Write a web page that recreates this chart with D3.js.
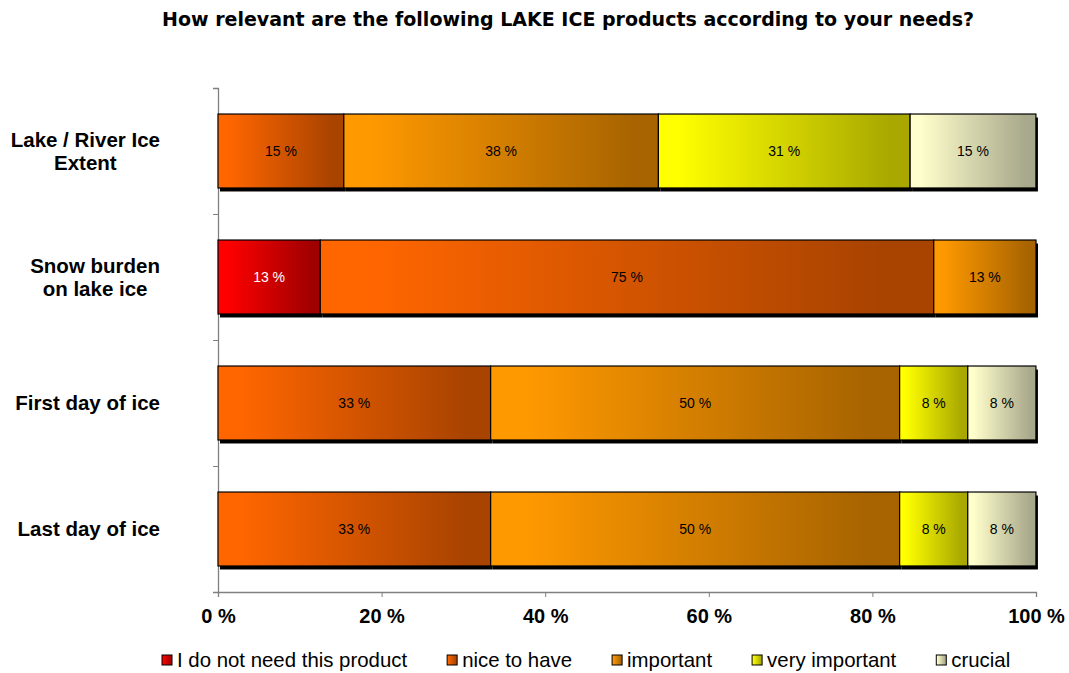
<!DOCTYPE html>
<html>
<head>
<meta charset="utf-8">
<script src="https://cdn.jsdelivr.net/npm/d3@7"></script>
<style>
  body { margin: 0; background: #fff; }
  svg { display: block; }
</style>
</head>
<body>
<div id="chart"></div>
<script>
// --------------------------------------
//  Data
// --------------------------------------

const categories = [
  ["Lake / River Ice", "Extent"],
  ["Snow burden", "on lake ice"],
  ["First day of ice"],
  ["Last day of ice"]
];
const seriesNames = ["I do not need this product", "nice to have", "important", "very important", "crucial"];
const notNeeded     = [0, 12.5, 0, 0];
const niceToHave    = [15.38, 75, 33.33, 33.33];
const important     = [38.46, 12.5, 50, 50];
const veryImportant = [30.77, 0, 8.33, 8.33];
const crucial       = [15.38, 0, 8.33, 8.33];
const xTicks = [0, 20, 40, 60, 80, 100];

const seriesValues = [notNeeded, niceToHave, important, veryImportant, crucial];
const colors = [
  ["#ff0000", "#a00000"],
  ["#ff6600", "#a84300"],
  ["#ff9900", "#a86400"],
  ["#ffff00", "#a8a800"],
  ["#ffffcc", "#a8a88c"]
];

// --------------------------------------
//  Margin and canvas
// --------------------------------------

const width = 1069;
const height = 673;
const margin = {top: 88, right: 33, bottom: 81, left: 218};
const innerwidth = width - margin.left - margin.right;
const innerheight = height - margin.top - margin.bottom;

const svg = d3.select("#chart")
  .append("svg")
    .attr("width", width)
    .attr("height", height);

const defs = svg.append("defs");
colors.forEach((c, i) => {
  const g = defs.append("linearGradient")
      .attr("id", "grad" + i)
      .attr("x1", 0).attr("x2", 1).attr("y1", 0).attr("y2", 0);
  g.append("stop").attr("offset", "0.08").attr("stop-color", c[0]);
  g.append("stop").attr("offset", "0.92").attr("stop-color", c[1]);
});

const innerChart = svg.append("g")
    .attr("transform", `translate(${margin.left}, ${margin.top})`);

// --------------------------------------
//  Scales
// --------------------------------------

const x = d3.scaleLinear().domain([0, 100]).range([0, innerwidth]);
const y = d3.scaleBand()
    .domain(d3.range(categories.length))
    .range([0, innerheight])
    .paddingInner(0.413)
    .paddingOuter(0.2065);

const rows = categories.map((c, i) => {
  let acc = 0;
  return seriesValues.map((s, k) => {
    const d = {row: i, series: k, x0: acc, x1: acc + s[i], value: s[i]};
    acc += s[i];
    return d;
  });
});
const segments = rows.flat().filter(d => d.value > 0);

// --------------------------------------
//  Title
// --------------------------------------

svg.append("text")
    .attr("x", 568)
    .attr("y", 26)
    .attr("text-anchor", "middle")
    .style("font-family", "'DejaVu Sans', Verdana, sans-serif")
    .style("font-weight", "bold")
    .style("font-size", "19px")
    .text("How relevant are the following LAKE ICE products according to your needs?");

// --------------------------------------
//  Axes
// --------------------------------------

const xAxis = innerChart.append("g")
    .attr("transform", `translate(0, ${innerheight})`)
    .call(d3.axisBottom(x)
      .tickValues(xTicks)
      .tickSize(5)
      .tickPadding(12)
      .tickFormat(d => d + " %"));

const yAxis = innerChart.append("g")
    .call(d3.axisLeft(d3.scaleLinear().domain([0, categories.length]).range([0, innerheight]))
      .tickValues(d3.range(categories.length + 1))
      .tickSize(5)
      .tickFormat(""));

[xAxis, yAxis].forEach(a => {
  a.selectAll("path, line").attr("stroke", "#808080");
  a.select(".domain").attr("stroke-width", 1.3);
});
xAxis.selectAll("text")
    .attr("fill", "#000")
    .style("font-family", "Arial, 'Liberation Sans', sans-serif")
    .style("font-weight", "bold")
    .style("font-size", "20px");

// category labels: block right-aligned, lines centred
categories.forEach((lines, i) => {
  const g = svg.append("g");
  const cy = margin.top + y(i) + y.bandwidth() / 2;
  const lh = 23;
  const texts = lines.map((l, j) => g.append("text")
      .attr("y", cy + (j - (lines.length - 1) / 2) * lh + 7)
      .style("font-family", "Arial, 'Liberation Sans', sans-serif")
      .style("font-weight", "bold")
      .style("font-size", "20.5px")
      .attr("text-anchor", "middle")
      .text(l));
  const w = d3.max(texts, t => t.node().getComputedTextLength());
  texts.forEach(t => t.attr("x", 160 - w / 2));
});

// --------------------------------------
//  Bars
// --------------------------------------

innerChart.append("g")
  .selectAll("rect")
  .data(segments)
  .join("rect")
    .attr("x", d => x(d.x0) + 2)
    .attr("y", d => y(d.row) + 3.5)
    .attr("width", d => x(d.x1) - x(d.x0))
    .attr("height", y.bandwidth())
    .attr("fill", "#000");

innerChart.append("g")
  .selectAll("rect")
  .data(segments)
  .join("rect")
    .attr("x", d => x(d.x0))
    .attr("y", d => y(d.row))
    .attr("width", d => x(d.x1) - x(d.x0))
    .attr("height", y.bandwidth())
    .attr("fill", d => `url(#grad${d.series})`)
    .attr("stroke", "#000")
    .attr("stroke-width", 1.2);

innerChart.append("g")
  .selectAll("text")
  .data(segments)
  .join("text")
    .attr("x", d => x((d.x0 + d.x1) / 2))
    .attr("y", d => y(d.row) + y.bandwidth() / 2 + 5)
    .attr("text-anchor", "middle")
    .attr("fill", d => d.series === 0 ? "#fff" : "#000")
    .style("font-family", "Arial, 'Liberation Sans', sans-serif")
    .style("font-size", "14px")
    .text(d => d3.format(".0f")(d.value) + " %");

// --------------------------------------
//  Legend
// --------------------------------------

const legend = svg.append("g");
let lx = 162;
seriesNames.forEach((name, i) => {
  const item = legend.append("g")
      .attr("transform", `translate(${lx}, 660)`);
  item.append("rect")
      .attr("x", 0).attr("y", -5)
      .attr("width", 10).attr("height", 10)
      .attr("fill", `url(#grad${i})`)
      .attr("stroke", "#000")
      .attr("stroke-width", 1);
  const t = item.append("text")
      .attr("x", 15)
      .attr("y", 7)
      .style("font-family", "Arial, 'Liberation Sans', sans-serif")
      .style("font-size", "20.4px")
      .text(name);
  lx += 15 + t.node().getComputedTextLength() + 40;
});
</script>
</body>
</html>
